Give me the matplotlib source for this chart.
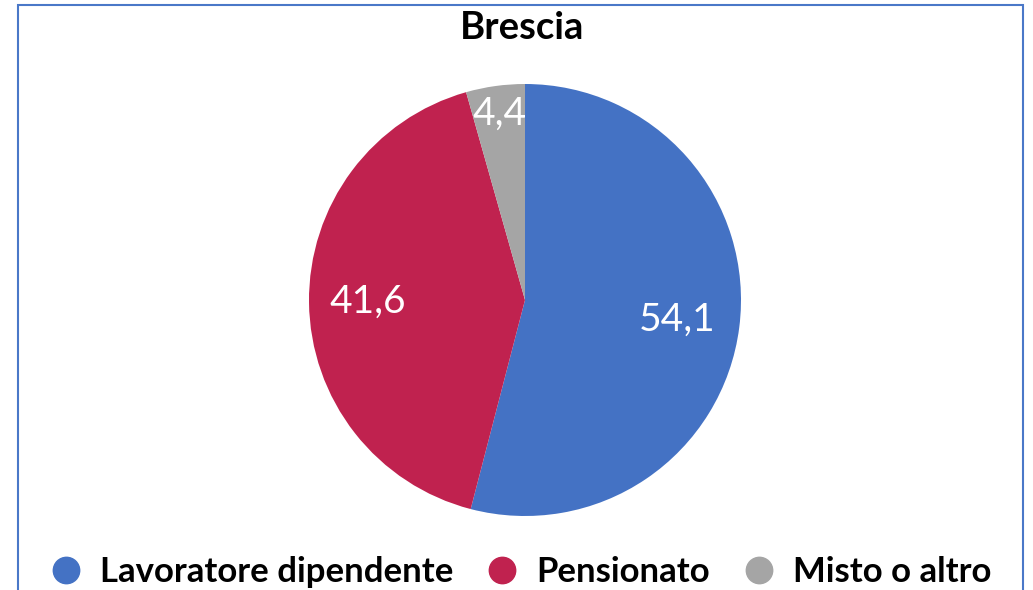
import matplotlib.pyplot as plt
from matplotlib.lines import Line2D
from matplotlib.patches import Rectangle
import numpy as np

plt.rcParams['font.family'] = ['Lato', 'DejaVu Sans']

# data
categories = ['Lavoratore dipendente', 'Pensionato', 'Misto o altro']
values = [54.1, 41.6, 4.4]
value_labels = ['54,1', '41,6', '4,4']
colors = ['#4472C4', '#C0224F', '#A5A5A5']
label_radius = [0.71, 0.73, 0.87]

W, H = 1033, 590
fig = plt.figure(figsize=(W / 100, H / 100), dpi=100)

# pie centre (525,300) px, radius 216 px
cx, cy, r = 525, 300, 216
ax = fig.add_axes([(cx - r) / W, (H - cy - r) / H, 2 * r / W, 2 * r / H])
wedges, _ = ax.pie(values, colors=colors, startangle=90, counterclock=False,
                   radius=1.0, wedgeprops=dict(linewidth=0))
ax.set_xlim(-1, 1)
ax.set_ylim(-1, 1)
ax.set_aspect('equal')
ax.axis('off')

for w, lab, rr in zip(wedges, value_labels, label_radius):
    ang = np.deg2rad((w.theta1 + w.theta2) / 2)
    ax.text(rr * np.cos(ang), rr * np.sin(ang), lab, color='white',
            fontsize=28, ha='center', va='center')

fig.text(522 / W, 1 - 28 / H, 'Brescia', ha='center', va='center',
         fontsize=27.5, fontweight='bold')

handles = [Line2D([], [], marker='o', linestyle='none', markersize=19,
                  markerfacecolor=c, markeredgecolor=c) for c in colors]
leg = fig.legend(handles, categories, loc='center', bbox_to_anchor=(522 / W, 1 - 572 / H),
                 ncol=3, frameon=False, handletextpad=0.62, columnspacing=1.02,
                 handlelength=0.75, borderpad=0,
                 prop=dict(size=25, weight='bold'))

# outer frame of the chart area
fig.patches.append(Rectangle((18 / W, -0.05), (1023 - 18) / W, 1.05 - 5 / H,
                             transform=fig.transFigure, fill=False,
                             edgecolor='#4A78C8', linewidth=1.5))

fig.savefig('out.png', dpi=100)
